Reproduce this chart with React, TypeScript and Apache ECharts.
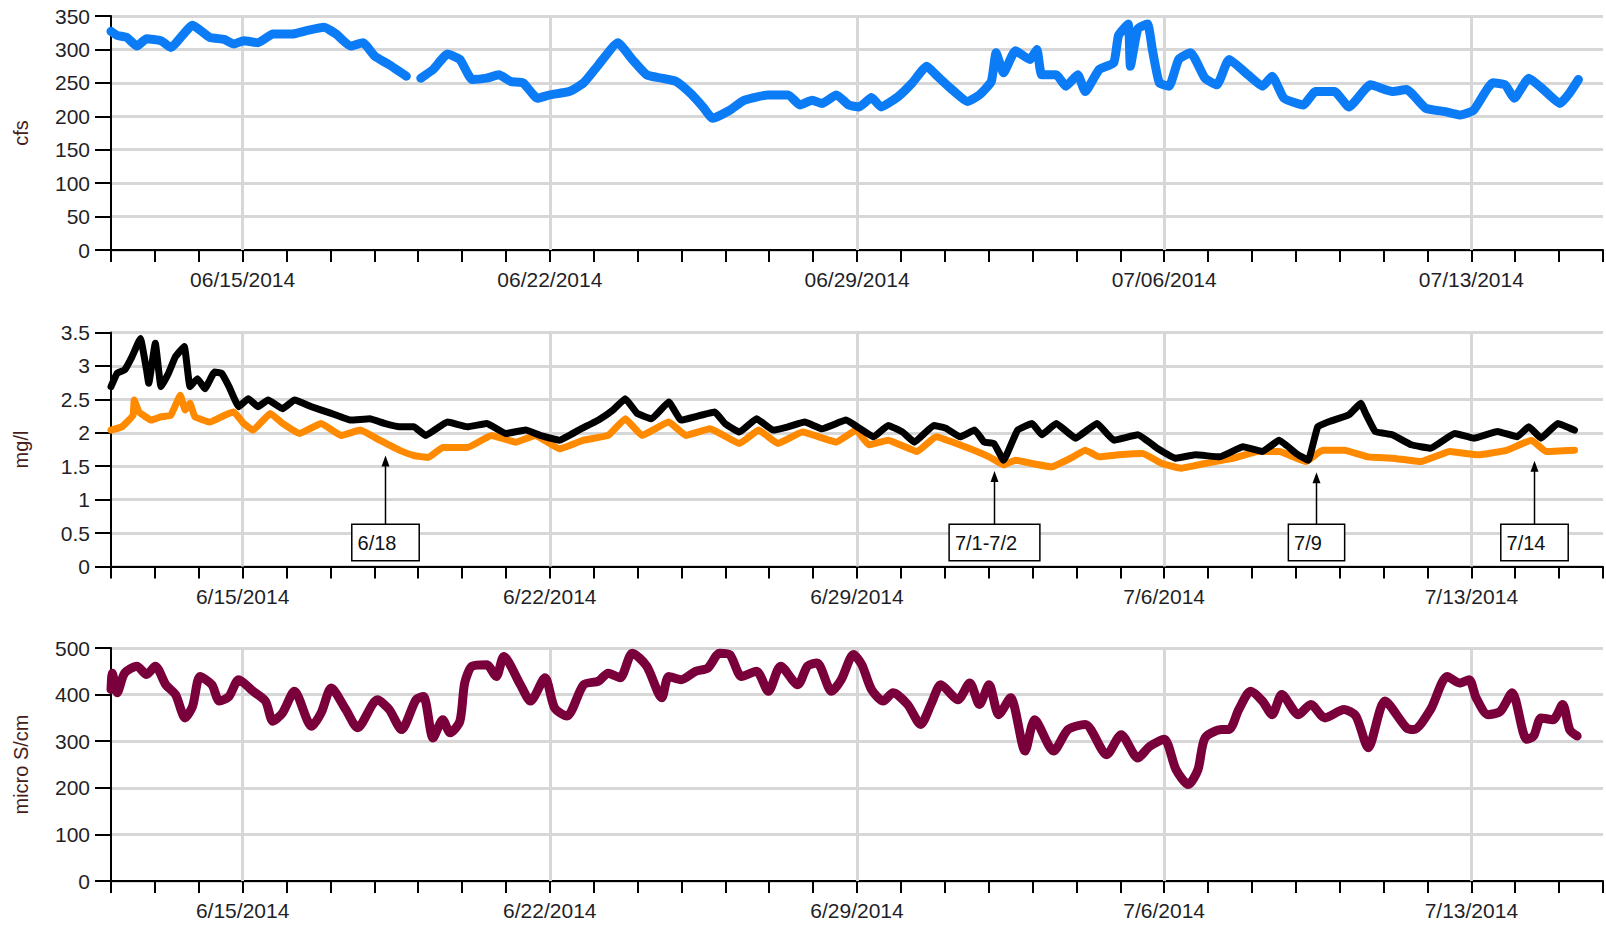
import { useEffect, useRef } from 'react';
import * as echarts from 'echarts';

// x values are days since 6/12/2014 00:00
const axisMinDay = 0;
const axisMaxDay = 34;
const weekTickDays = [3, 10, 17, 24, 31];
const flowTickLabels = ['06/15/2014', '06/22/2014', '06/29/2014', '07/06/2014', '07/13/2014'];
const dateTickLabels = ['6/15/2014', '6/22/2014', '6/29/2014', '7/6/2014', '7/13/2014'];

// Panel 1: discharge (cfs)
const flowDays = [
  0, 0.14, 0.36, 0.59, 0.81, 1.14, 1.36, 1.86, 2.25, 2.58, 2.8, 3.02, 3.35, 3.69, 4.13, 4.46, 4.85, 5.13,
  5.46, 5.74, 6.01, 6.34, 6.73, 6.9, 7.06, 7.34, 7.67, 7.95, 8.23, 8.56, 8.84, 9.11, 9.39, 9.72, 10.0, 10.44,
  10.77, 11.11, 11.55, 11.88, 12.21, 12.55, 12.88, 13.21, 13.49, 13.71, 14.1, 14.43, 14.98, 15.43, 15.7,
  15.98, 16.2, 16.53, 16.81, 17.05, 17.33, 17.55, 17.93, 18.26, 18.59, 18.8, 19.13, 19.52, 19.79, 20.06,
  20.17, 20.34, 20.61, 20.94, 21.1, 21.21, 21.54, 21.76, 22.03, 22.2, 22.52, 22.85, 22.96, 23.18, 23.23,
  23.4, 23.62, 23.73, 23.89, 24.11, 24.33, 24.6, 24.93, 25.2, 25.48, 25.91, 26.24, 26.46, 26.73, 27.17,
  27.45, 27.88, 28.21, 28.7, 29.2, 29.52, 29.96, 30.4, 30.73, 31.05, 31.49, 31.77, 31.98, 32.31, 32.64,
  33.02, 33.24, 33.44,
];
const flowValues: (number | string)[] = [
  327, 321, 318, 305, 316, 313, 303, 336, 318, 315, 308, 313, 310, 323, 323, 328, 333, 323,
  305, 310, 290, 277, 260, '-', 257, 270, 293, 285, 255, 257, 262, 252, 250, 227, 232, 237,
  250, 277, 310, 285, 262, 257, 252, 234, 214, 197, 209, 224, 232, 232, 217,
  224, 219, 232, 217, 214, 228, 214, 229, 250, 275, 262, 242, 222, 232, 252,
  295, 265, 298, 285, 300, 262, 262, 245, 262, 237, 270, 280, 321, 338, 275,
  331, 338, 300, 250, 245, 285, 295, 257, 247, 285, 262, 245, 260, 227, 217,
  237, 237, 214, 247, 237, 240, 212, 207, 202, 209, 250, 247, 227, 257, 240,
  219, 235, 255,
];

// Panel 2: black series (mg/l)
const blackDays = [
  0, 0.14, 0.31, 0.48, 0.67, 0.81, 0.86, 1.01, 1.14, 1.31, 1.47, 1.67, 1.8, 1.97, 2.14, 2.36, 2.52, 2.69,
  2.91, 3.13, 3.35, 3.58, 3.91, 4.18, 4.57, 5.02, 5.46, 5.9, 6.23, 6.57, 6.9, 7.17, 7.67, 8.12, 8.56, 9.0,
  9.45, 9.78, 10.22, 10.66, 11.11, 11.44, 11.72, 11.99, 12.32, 12.71, 12.99, 13.43, 13.76, 13.99, 14.32,
  14.71, 15.09, 15.43, 15.81, 16.2, 16.75, 17.05, 17.38, 17.71, 18.04, 18.31, 18.75, 19.02, 19.35, 19.68,
  19.9, 20.12, 20.34, 20.66, 20.99, 21.21, 21.54, 21.98, 22.47, 22.85, 23.4, 23.84, 24.27, 24.71, 25.26,
  25.8, 26.24, 26.62, 27.01, 27.28, 27.5, 27.77, 28.21, 28.48, 28.59, 28.81, 29.2, 29.63, 30.07, 30.62,
  31.05, 31.6, 32.04, 32.31, 32.59, 32.97, 33.35,
];
const blackValues = [
  2.69, 2.89, 2.94, 3.14, 3.41, 2.94, 2.74, 3.34, 2.69, 2.89, 3.14, 3.29, 2.69, 2.81, 2.66, 2.91, 2.89, 2.69,
  2.39, 2.51, 2.39, 2.49, 2.36, 2.49, 2.39, 2.29, 2.19, 2.21, 2.14, 2.09, 2.09, 1.96, 2.16, 2.09, 2.14, 1.99,
  2.04, 1.96, 1.89, 2.04, 2.19, 2.34, 2.51, 2.29, 2.21, 2.46, 2.19, 2.26, 2.31, 2.14, 2.01,
  2.21, 2.04, 2.09, 2.16, 2.06, 2.19, 2.07, 1.94, 2.11, 2.01, 1.86, 2.11, 2.07, 1.94, 2.04,
  1.86, 1.84, 1.59, 2.04, 2.14, 1.97, 2.14, 1.92, 2.14, 1.89, 1.97, 1.77, 1.62, 1.67, 1.64,
  1.79, 1.72, 1.89, 1.69, 1.59, 2.09, 2.17, 2.27, 2.44, 2.29, 2.02, 1.97, 1.82, 1.77, 1.99,
  1.92, 2.02, 1.94, 2.09, 1.92, 2.14, 2.04,
];

// Panel 2: orange series (mg/l)
const orangeDays = [
  0, 0.25, 0.5, 0.53, 0.64, 0.92, 1.14, 1.36, 1.58, 1.69, 1.8, 1.91, 2.25, 2.58, 2.8, 3.02, 3.24, 3.63,
  3.91, 4.3, 4.79, 5.24, 5.68, 6.12, 6.57, 6.9, 7.23, 7.56, 8.12, 8.67, 9.22, 9.67, 10.22, 10.77, 11.33,
  11.72, 12.1, 12.71, 13.1, 13.65, 14.32, 14.76, 15.2, 15.76, 16.53, 16.98, 17.27, 17.71, 18.37, 18.8,
  19.46, 20.01, 20.34, 20.61, 20.99, 21.43, 21.87, 22.2, 22.52, 22.96, 23.51, 23.95, 24.38, 24.93, 25.59,
  26.13, 26.62, 27.23, 27.61, 28.1, 28.65, 29.2, 29.85, 30.51, 31.16, 31.82, 32.37, 32.7, 33.35,
];
const orangeValues = [
  2.04, 2.09, 2.26, 2.49, 2.31, 2.19, 2.24, 2.26, 2.56, 2.34, 2.44, 2.24, 2.16, 2.26, 2.31, 2.14, 2.04, 2.29,
  2.14, 1.99, 2.14, 1.96, 2.04, 1.89, 1.74, 1.66, 1.63, 1.78, 1.78, 1.96, 1.86, 1.96, 1.76, 1.89, 1.96,
  2.21, 1.96, 2.16, 1.96, 2.06, 1.84, 2.04, 1.84, 2.01, 1.86, 2.04, 1.82, 1.89, 1.72, 1.94,
  1.79, 1.64, 1.52, 1.59, 1.54, 1.49, 1.62, 1.74, 1.64, 1.67, 1.69, 1.54, 1.47, 1.54, 1.62,
  1.72, 1.72, 1.57, 1.74, 1.74, 1.64, 1.62, 1.57, 1.72, 1.67, 1.74, 1.89, 1.72, 1.74,
];

// Panel 3: specific conductance (micro S/cm)
const condDays = [
  0, 0.03, 0.14, 0.31, 0.59, 0.81, 1.01, 1.25, 1.47, 1.69, 1.86, 2.03, 2.3, 2.47, 2.69, 2.91, 3.24, 3.52,
  3.69, 3.91, 4.18, 4.57, 4.79, 5.02, 5.35, 5.62, 6.07, 6.34, 6.62, 6.95, 7.12, 7.34, 7.56, 7.73, 7.95,
  8.06, 8.23, 8.56, 8.78, 8.95, 9.33, 9.56, 9.89, 10.11, 10.39, 10.77, 11.11, 11.33, 11.6, 11.88, 12.21,
  12.55, 12.71, 12.99, 13.32, 13.6, 13.87, 14.1, 14.37, 14.71, 14.98, 15.26, 15.65, 15.87, 16.09, 16.42,
  16.64, 16.92, 17.11, 17.33, 17.6, 17.82, 18.15, 18.45, 18.7, 18.91, 19.3, 19.57, 19.79, 20.01, 20.23,
  20.5, 20.83, 21.05, 21.48, 21.81, 22.2, 22.69, 23.02, 23.4, 23.67, 24.0, 24.27, 24.55, 24.77, 24.93,
  25.31, 25.48, 25.7, 25.97, 26.24, 26.46, 26.68, 27.06, 27.34, 27.66, 28.1, 28.37, 28.65, 29.03, 29.52,
  29.69, 30.07, 30.45, 30.73, 30.95, 31.11, 31.38, 31.66, 31.93, 32.26, 32.42, 32.59, 32.86, 33.08, 33.24,
  33.41,
];
const condValues = [
  411, 446, 404, 446, 461, 443, 461, 421, 400, 350, 375, 439, 421, 386, 396, 432, 407, 386,
  343, 361, 407, 332, 361, 414, 368, 329, 389, 368, 325, 389, 396, 307, 346, 318, 343,
  425, 461, 464, 439, 482, 421, 386, 436, 371, 354, 421, 429, 446, 436, 489, 461,
  393, 439, 432, 450, 457, 489, 486, 439, 450, 407, 461, 421, 461, 468, 407,
  432, 486, 464, 411, 386, 404, 379, 336, 382, 421, 389, 425, 379, 421, 357,
  393, 279, 346, 279, 325, 336, 271, 314, 264, 289, 304, 239, 207, 239, 307,
  325, 325, 368, 407, 386, 357, 400, 357, 379, 350, 368, 354, 286, 386, 329,
  325, 368, 439, 425, 432, 393, 357, 364, 404, 304, 311, 350, 346, 379, 325,
  311,
];

// Annotations on the mg/l panel
const annoLabels = ['6/18', '7/1-7/2', '7/9', '7/14'];
const annoDays = [6.24, 20.13, 27.45, 32.43];
const annoTipValues = [1.66, 1.43, 1.41, 1.58];
const annoBoxTopValue = 0.62;

const FONT = '"Liberation Sans", Arial, Helvetica, sans-serif';
const TICK_COLOR = '#1f1f28';
const NAME_COLOR = '#45201a';
const GRID_COLOR = '#d7d7d7';

const pairs = (xs: number[], ys: (number | string)[]) => xs.map((x, i) => [x, ys[i]]);

export default function App() {
  const ref = useRef<HTMLDivElement>(null);

  useEffect(() => {
    if (!ref.current) return;
    const chart = echarts.init(ref.current, undefined, { renderer: 'svg' });

    const grids = [
      { left: 111, width: 1493, top: 16, height: 234 },
      { left: 111, width: 1493, top: 332.5, height: 234 },
      { left: 111, width: 1493, top: 648, height: 233 },
    ];

    const xAxisFor = (i: number, labels: string[]) => ({
      type: 'value',
      gridIndex: i,
      min: axisMinDay,
      max: axisMaxDay,
      interval: 1,
      axisLine: { show: true, onZero: false, lineStyle: { color: '#000', width: 2 } },
      axisTick: { show: true, length: 12, lineStyle: { color: '#000', width: 2 } },
      splitLine: { show: false },
      axisLabel: {
        show: true,
        margin: 19,
        color: TICK_COLOR,
        fontFamily: FONT,
        fontSize: 21,
        formatter: (v: number) => {
          const k = weekTickDays.indexOf(Math.round(v));
          return k >= 0 && Math.abs(v - weekTickDays[k]) < 1e-6 ? labels[k] : '';
        },
      },
    });

    const yAxisFor = (i: number, max: number, interval: number, name: string) => ({
      type: 'value',
      gridIndex: i,
      min: 0,
      max,
      interval,
      name,
      nameLocation: 'middle',
      nameRotate: 90,
      nameGap: 80,
      nameTextStyle: { color: NAME_COLOR, fontFamily: FONT, fontSize: 20 },
      axisLine: { show: true, lineStyle: { color: '#000', width: 2 } },
      axisTick: { show: true, length: 16, lineStyle: { color: '#000', width: 2 } },
      splitLine: { show: true, lineStyle: { color: GRID_COLOR, width: 3 } },
      axisLabel: { margin: 21, color: TICK_COLOR, fontFamily: FONT, fontSize: 21 },
    });

    const weekLines = () => ({
      silent: true,
      z: 1,
      symbol: ['none', 'none'],
      label: { show: false },
      emphasis: { disabled: true },
      lineStyle: { color: GRID_COLOR, width: 3, type: 'solid' },
      data: weekTickDays.map((d) => ({ xAxis: d })),
    });

    const lineSeries = (
      i: number,
      data: any[],
      color: string,
      width: number,
      withGrid: boolean,
      smooth: number,
    ) => ({
      type: 'line',
      xAxisIndex: i,
      yAxisIndex: i,
      data,
      showSymbol: false,
      symbol: 'none',
      connectNulls: false,
      smooth,
      z: 3,
      lineStyle: { color, width, join: 'round', cap: 'round' },
      ...(withGrid ? { markLine: weekLines() } : {}),
    });

    chart.setOption({
      animation: false,
      backgroundColor: '#ffffff',
      textStyle: { fontFamily: FONT },
      grid: grids,
      xAxis: [xAxisFor(0, flowTickLabels), xAxisFor(1, dateTickLabels), xAxisFor(2, dateTickLabels)],
      yAxis: [yAxisFor(0, 350, 50, 'cfs'), yAxisFor(1, 3.5, 0.5, 'mg/l'), yAxisFor(2, 500, 100, 'micro S/cm')],
      series: [
        lineSeries(0, pairs(flowDays, flowValues), '#0b7cf6', 9, true, 0.15),
        lineSeries(1, pairs(orangeDays, orangeValues), '#ff8a00', 7, true, 0.1),
        lineSeries(1, pairs(blackDays, blackValues), '#000000', 7, false, 0.1),
        lineSeries(2, pairs(condDays, condValues), '#7a003b', 9, true, 0.25),
      ],
    });

    // annotations: arrows and labelled boxes placed from data coordinates
    const elements: any[] = [];
    annoLabels.forEach((label, i) => {
      const tip = chart.convertToPixel({ gridIndex: 1 } as any, [annoDays[i], annoTipValues[i]]) as number[];
      const box = chart.convertToPixel({ gridIndex: 1 } as any, [annoDays[i], annoBoxTopValue]) as number[];
      if (!tip || !box) return;
      const x = Math.round(tip[0]) + 0.5;
      elements.push({
        type: 'line',
        silent: true,
        z: 10,
        shape: { x1: x, y1: tip[1] + 8, x2: x, y2: box[1] },
        style: { stroke: '#000', lineWidth: 1.5 },
      });
      elements.push({
        type: 'polygon',
        silent: true,
        z: 10,
        shape: { points: [[x, tip[1]], [x - 4, tip[1] + 11], [x + 4, tip[1] + 11]] },
        style: { fill: '#000' },
      });
      elements.push({
        type: 'text',
        silent: true,
        z: 11,
        x,
        y: box[1],
        style: {
          text: label,
          font: `20px ${FONT}`,
          fill: '#111',
          align: 'center',
          verticalAlign: 'top',
          backgroundColor: '#fff',
          borderColor: '#000',
          borderWidth: 1.5,
          padding: [8, 22, 7, 5],
        },
      });
    });
    chart.setOption({ graphic: { elements } });

    return () => chart.dispose();
  }, []);

  return (
    <div
      ref={ref}
      style={{ position: 'fixed', left: 0, top: 0, width: 1606, height: 929, background: '#fff' }}
    />
  );
}
